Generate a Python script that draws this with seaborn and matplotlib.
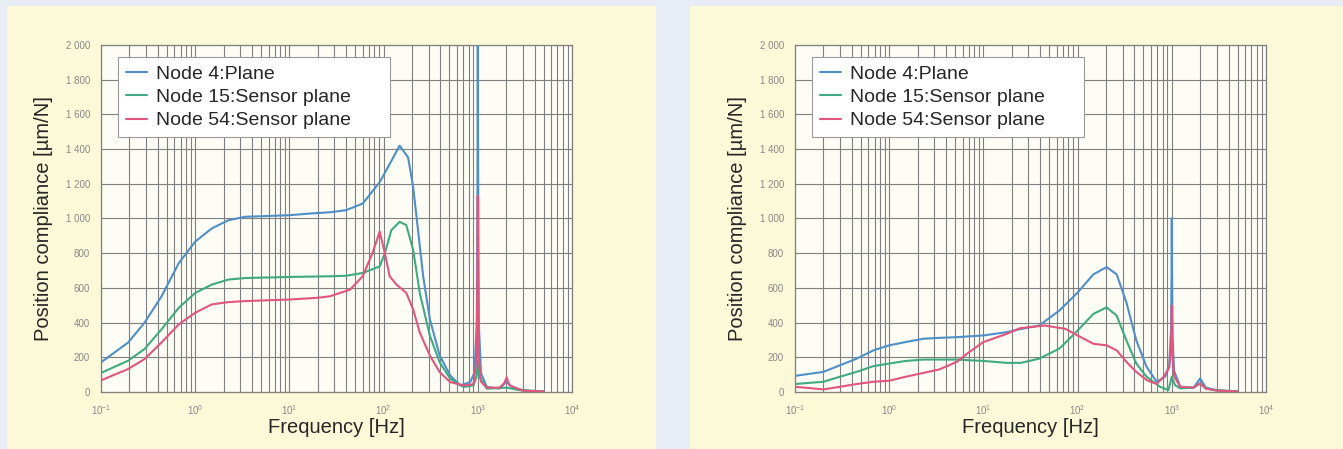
import numpy as np
import pandas as pd
import matplotlib
matplotlib.use("Agg")
import matplotlib.pyplot as plt
import matplotlib.ticker as mticker
from matplotlib.patches import Rectangle
import seaborn as sns

# ---- data (frequency in Hz, compliance in um/N) ----
nodes = ["Node 4:Plane", "Node 15:Sensor plane", "Node 54:Sensor plane"]
colors = ["#4f8fc8", "#3faa80", "#e2557f"]

# left panel
left_freq_blue = [0.1, 0.195, 0.29, 0.44, 0.67, 1, 1.5, 2.25, 3.4, 5.1, 10, 17, 27, 40, 60, 91,
                  116, 148, 182, 206, 232, 263, 310, 394, 510, 650, 830, 920, 975, 992, 1000,
                  1008, 1025, 1080, 1245, 1700, 2030, 2400, 3500, 5000]
left_val_blue = [171, 286, 400, 552, 743, 867, 943, 990, 1010, 1013, 1019, 1029, 1036, 1048, 1086,
                 1210, 1314, 1420, 1352, 1181, 933, 667, 419, 210, 95, 38, 57, 110, 400, 1200,
                 2100, 1200, 400, 110, 29, 20, 60, 18, 8, 4]

left_freq_green = [0.1, 0.195, 0.29, 0.44, 0.67, 1, 1.5, 2.25, 3.4, 10, 27, 40, 60, 91, 103, 121,
                   148, 174, 206, 242, 310, 394, 510, 705, 900, 970, 1000, 1030, 1245, 2030,
                   3000, 5000]
left_val_green = [110, 181, 248, 362, 486, 571, 619, 648, 657, 663, 667, 670, 686, 724, 800, 933,
                  981, 962, 819, 571, 324, 171, 76, 29, 38, 90, 180, 90, 19, 25, 8, 3]

left_freq_pink = [0.1, 0.195, 0.29, 0.44, 0.67, 1, 1.5, 2.25, 3.4, 10, 20, 27, 44, 60, 76, 91,
                  103, 116, 137, 174, 206, 242, 310, 394, 510, 705, 900, 975, 992, 1000, 1008,
                  1025, 1080, 1245, 1700, 1900, 2030, 2150, 3000, 5000]
left_val_pink = [67, 133, 190, 286, 390, 457, 505, 518, 524, 533, 543, 552, 590, 667, 800, 925,
                 800, 667, 619, 571, 476, 343, 210, 114, 57, 38, 45, 200, 700, 1130, 700, 200,
                 60, 25, 25, 50, 85, 40, 8, 3]

# right panel
right_freq_blue = [0.1, 0.2, 0.3, 0.45, 0.68, 1, 1.5, 2.3, 3.4, 5.2, 10, 17.7, 24.5, 39, 64, 100,
                   147, 203, 260, 330, 420, 540, 690, 850, 940, 980, 995, 1000, 1005, 1020, 1060,
                   1230, 1700, 2000, 2300, 3000, 5000]
right_val_blue = [93, 116, 154, 192, 240, 269, 288, 307, 312, 316, 326, 345, 362, 383, 469, 573,
                  678, 720, 678, 516, 297, 145, 59, 88, 160, 350, 700, 1002, 700, 300, 120, 30,
                  25, 78, 25, 11, 4]

right_freq_green = [0.1, 0.2, 0.3, 0.45, 0.68, 1, 1.5, 2.3, 3.4, 5.2, 10, 17.7, 25, 39, 64, 100,
                    147, 203, 260, 330, 420, 540, 750, 920, 1000, 1080, 1230, 1700, 2000, 2300,
                    3000, 5000]
right_val_green = [46, 59, 88, 116, 149, 164, 179, 187, 187, 187, 179, 168, 168, 192, 250, 354,
                   450, 488, 440, 297, 164, 88, 30, 11, 88, 40, 21, 25, 50, 20, 8, 3]

right_freq_pink = [0.1, 0.2, 0.3, 0.45, 0.68, 1, 1.5, 2.3, 3.4, 5.2, 6.7, 10, 17.7, 24.5, 45, 74,
                   93, 147, 203, 260, 330, 420, 540, 690, 820, 940, 980, 995, 1000, 1005, 1020,
                   1060, 1230, 1700, 2000, 2300, 3000, 5000]
right_val_pink = [30, 15, 30, 46, 59, 65, 88, 110, 130, 173, 221, 288, 335, 368, 383, 364, 335,
                  278, 269, 240, 173, 116, 69, 46, 88, 140, 250, 400, 500, 400, 200, 90, 30, 25,
                  50, 20, 8, 3]

panels = [
    [(left_freq_blue, left_val_blue), (left_freq_green, left_val_green), (left_freq_pink, left_val_pink)],
    [(right_freq_blue, right_val_blue), (right_freq_green, right_val_green), (right_freq_pink, right_val_pink)],
]

sns.set_style("white")
plt.rcParams["font.family"] = ["Liberation Sans", "DejaVu Sans"]

W, H = 1343, 449
fig = plt.figure(figsize=(W / 100, H / 100), dpi=100, facecolor="#e8ecf5")

# cream panels behind each chart
for x0, x1 in [(7, 656), (690, 1343)]:
    fig.patches.append(Rectangle((x0 / W, 0), (x1 - x0) / W, (H - 6) / H,
                                 transform=fig.transFigure, facecolor="#fcf9d8",
                                 edgecolor="none", zorder=-5))

axes_left = [101, 795]
for px, series in zip(axes_left, panels):
    ax = fig.add_axes([px / W, (H - 392) / H, 471 / W, 347 / H])
    ax.set_zorder(2)
    ax.set_facecolor("#fdfdf6")
    rows = []
    for name, (f, v) in zip(nodes, series):
        rows += [{"freq": a, "val": b, "node": name} for a, b in zip(f, v)]
    df = pd.DataFrame(rows)
    sns.lineplot(data=df, x="freq", y="val", hue="node", hue_order=nodes,
                 palette=colors, linewidth=1.5, ax=ax, zorder=3)
    ax.set_xscale("log")
    ax.set_xlim(0.1, 10000)
    ax.set_ylim(0, 2000)
    ax.yaxis.set_major_locator(mticker.MultipleLocator(200))
    ax.yaxis.set_major_formatter(mticker.FuncFormatter(
        lambda v, p: f"{int(v):,}".replace(",", " ")))
    ax.xaxis.set_major_locator(mticker.LogLocator(base=10, numticks=10))
    ax.xaxis.set_minor_locator(mticker.LogLocator(base=10, subs=np.arange(2, 10), numticks=20))
    ax.xaxis.set_minor_formatter(mticker.NullFormatter())
    ax.grid(True, which="major", color="#7f7f7f", linewidth=0.8)
    ax.grid(True, which="minor", axis="x", color="#7f7f7f", linewidth=0.8)
    ax.set_axisbelow(True)
    for s in ax.spines.values():
        s.set_color("#7f7f7f")
        s.set_linewidth(0.9)
    ax.tick_params(axis="y", which="major", direction="out", length=6, width=0.8,
                   color="#7f7f7f", labelsize=7, labelcolor="#888888", pad=2)
    ax.tick_params(axis="x", which="major", direction="out", length=4, width=0.8,
                   color="#7f7f7f", labelsize=7, labelcolor="#888888", pad=4)
    ax.tick_params(axis="x", which="minor", length=0)
    ax.set_xlabel("Frequency [Hz]", fontsize=14.5, labelpad=1)
    ax.set_ylabel("Position compliance [\u00b5m/N]", fontsize=14.5, labelpad=9)
    leg = ax.legend(loc="upper left", bbox_to_anchor=(0.036, 0.735, 0.578, 0.23),
                    mode="expand", fontsize=14,
                    frameon=True, fancybox=False, framealpha=1, edgecolor="#999999",
                    handlelength=1.1, handletextpad=0.45, labelspacing=0.3,
                    borderpad=0.4, borderaxespad=0, title=None)
    leg.get_frame().set_linewidth(0.8)
    leg.set_zorder(5)

fig.savefig("out.png", dpi=100, facecolor=fig.get_facecolor())
